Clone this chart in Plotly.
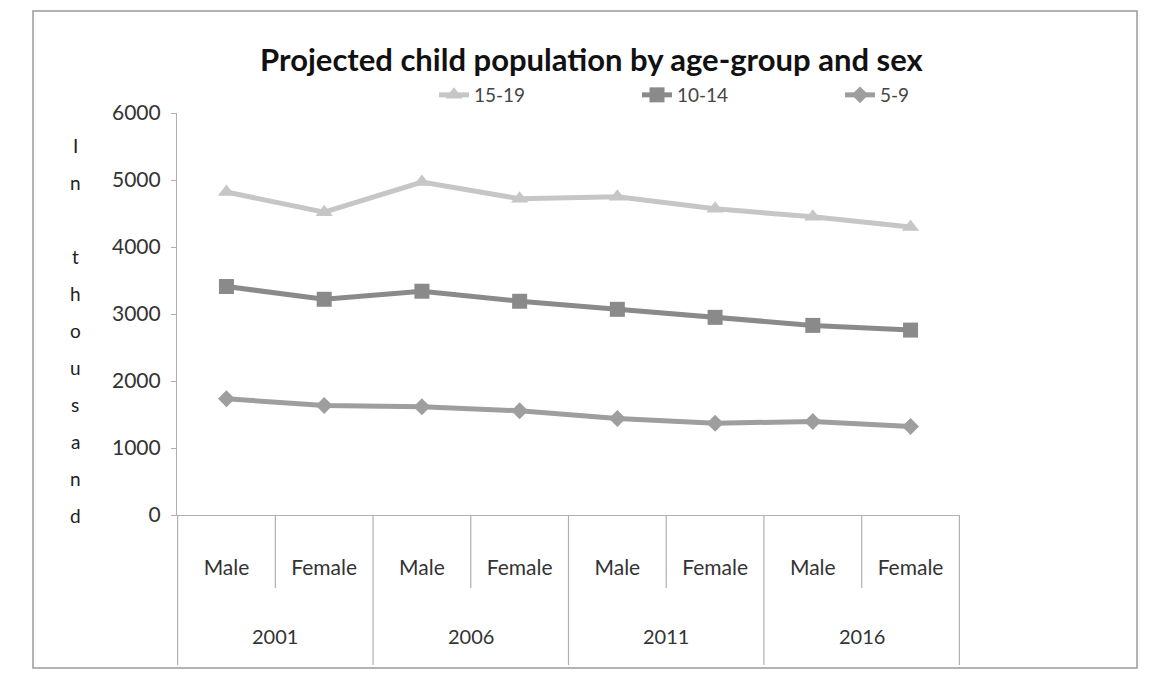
import plotly.graph_objects as go

# ---- data ----
years = ["2001", "2006", "2011", "2016"]
sexes = ["Male", "Female"]
series_names = ["15-19", "10-14", "5-9"]
v_15_19 = [4820, 4520, 4970, 4720, 4750, 4570, 4450, 4300]
v_10_14 = [3410, 3220, 3340, 3190, 3070, 2950, 2830, 2760]
v_5_9 = [1735, 1635, 1615, 1555, 1440, 1370, 1395, 1320]
y_ticks = [0, 1000, 2000, 3000, 4000, 5000, 6000]
y_title = "In thousand"
title = "Projected child population by age-group and sex"

cats = [f"{y} {s}" for y in years for s in sexes]
cat_sex = [s for y in years for s in sexes]

FONT = "Lato"
W, H = 1149, 677
L, R, T, B = 177, 189, 113, 162
pw, ph = W - L - R, H - T - B

def px_x(px):
    return (px - L) / pw

def px_y(py):
    return (H - B - py) / ph

styles = [
    dict(color="#c6c6c6", symbol="triangle-up", size=15),
    dict(color="#8a8a8a", symbol="square", size=15),
    dict(color="#9e9e9e", symbol="diamond", size=13),
]

fig = go.Figure()
for name, vals, st in zip(series_names, [v_15_19, v_10_14, v_5_9], styles):
    fig.add_trace(go.Scatter(
        x=cats, y=vals, name=name, mode="lines+markers",
        line=dict(color=st["color"], width=5),
        marker=dict(color=st["color"], symbol=st["symbol"], size=st["size"]),
    ))

shapes = []
# dividers
for i in range(len(cats) + 1):
    outer = (i % len(sexes) == 0)
    shapes.append(dict(type="line", xref="x", yref="paper",
                       x0=i - 0.5, x1=i - 0.5, y0=0,
                       y1=px_y(665) if outer else px_y(588),
                       line=dict(color="#b0b0b0", width=1.2)))
# frame
shapes.append(dict(type="rect", xref="paper", yref="paper",
                   x0=px_x(33), x1=px_x(1137), y0=px_y(668), y1=px_y(11),
                   line=dict(color="#9a9a9a", width=1.5)))

annotations = []
for j, yr in enumerate(years):
    annotations.append(dict(text=yr, xref="x", yref="paper",
                            x=j * len(sexes) + (len(sexes) - 1) / 2, y=px_y(636),
                            xanchor="center", yanchor="middle",
                            showarrow=False, font=dict(family=FONT, size=20, color="#333")))
for k, ch in enumerate(y_title):
    if ch.strip():
        annotations.append(dict(text=ch, xref="paper", yref="paper",
                                x=px_x(75), y=px_y(145 + 37 * k),
                                xanchor="center", yanchor="middle",
                                showarrow=False,
                                font=dict(family=FONT, size=19, color="#222")))

fig.update_layout(
    width=W, height=H,
    margin=dict(l=L, r=R, t=T, b=B),
    paper_bgcolor="white", plot_bgcolor="white",
    title=dict(text=title, x=px_x(580), xanchor="center", y=1 - 60 / H, yanchor="middle",
               font=dict(family=FONT, size=31, color="#111", weight="bold")),
    legend=dict(orientation="h", x=px_x(434), xanchor="left", y=px_y(95), yanchor="middle",
                entrywidth=158, entrywidthmode="pixels",
                font=dict(family=FONT, size=19, color="#444"), bgcolor="rgba(0,0,0,0)"),
    showlegend=True,
    xaxis=dict(type="category", tickmode="array", tickvals=cats, ticktext=cat_sex,
               showline=True, linecolor="#b0b0b0", linewidth=1.2,
               ticks="", showgrid=False, zeroline=False,
               ticklabelstandoff=34,
               tickfont=dict(family=FONT, size=21, color="#333")),
    yaxis=dict(range=[0, 6000], tickvals=y_ticks, showgrid=False, zeroline=False,
               showline=True, linecolor="#b0b0b0", linewidth=1.2,
               ticks="outside", ticklen=5, tickcolor="#b0b0b0",
               ticklabelstandoff=6,
               tickfont=dict(family=FONT, size=21, color="#333")),
    shapes=shapes,
    annotations=annotations,
)

fig.write_html("out.html")
